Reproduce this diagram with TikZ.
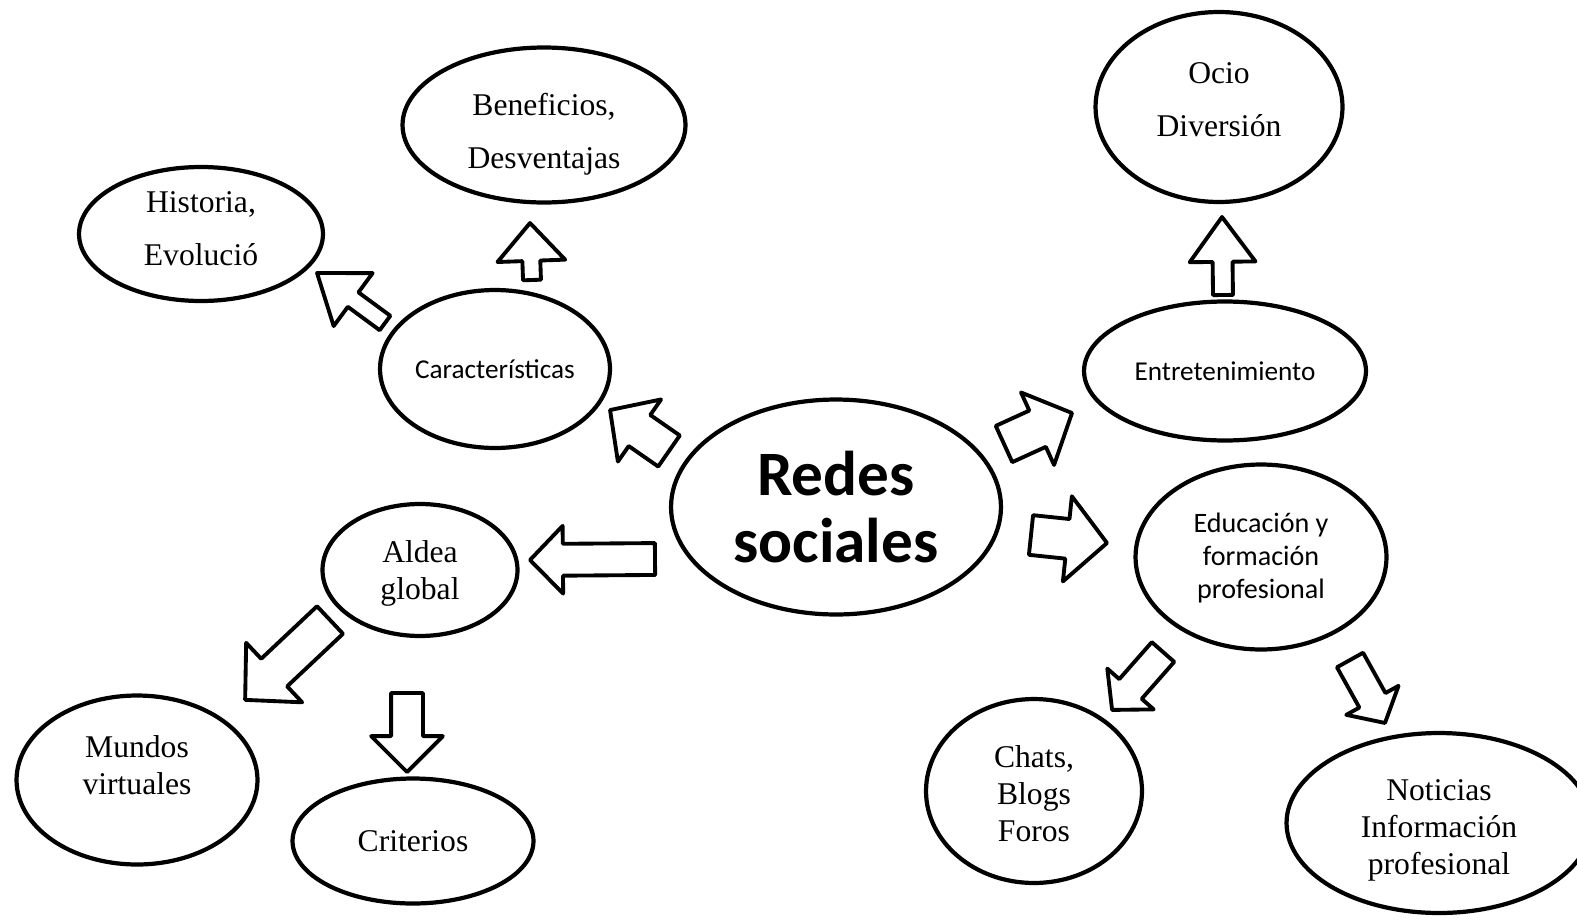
\documentclass[tikz,border=0pt]{standalone}
\usepackage{fontspec}
\setmainfont{Liberation Serif}
\newfontfamily\calib{Carlito}
\usetikzlibrary{shapes.geometric,calc}

\tikzset{
  bubble/.style={ellipse, draw, line width=2.4pt, inner sep=0pt, align=center},
  serif/.style={font=\fontsize{18}{21}\selectfont},
  wideserif/.style={font=\fontsize{18}{30.5}\selectfont},
  sans/.style={font=\calib\fontsize{15.5}{18.7}\selectfont},
  barrow/.style={draw, line width=2.2pt, line join=round, fill=white}
}

% lines of a bubble, moved up or down, the bubble keeps its given size
\newcommand{\lift}[2]{\raisebox{#1}[0pt][0pt]{\begin{tabular}{@{}c@{}}#2\end{tabular}}}

% tail, tip, half shaft, half head, head length (in px)
\newcommand{\blockarrow}[5]{%
  \draw[barrow] let \p1=(#1), \p2=(#2),
      \n1={atan2(\y2-\y1,\x2-\x1)}, \n2={veclen(\x2-\x1,\y2-\y1)} in
    [shift={(\p1)}, rotate=\n1]
    (0pt,{-#3*0.5669pt}) -- ({\n2*1pt-#5*0.5669pt},{-#3*0.5669pt})
    -- ({\n2*1pt-#5*0.5669pt},{-#4*0.5669pt}) -- ({\n2*1pt},0pt)
    -- ({\n2*1pt-#5*0.5669pt},{#4*0.5669pt}) -- ({\n2*1pt-#5*0.5669pt},{#3*0.5669pt})
    -- (0pt,{#3*0.5669pt}) -- cycle;
}

\begin{document}
\begin{tikzpicture}[x=0.02cm, y=-0.02cm]
  \useasboundingbox (0,0) rectangle (1577,919);

  \node[bubble, wideserif, minimum width=4.88cm, minimum height=2.68cm] (hist) at (201,234) {\lift{-1.1pt}{Historia,\\Evolució}};
  \node[bubble, wideserif, minimum width=5.66cm, minimum height=3.1cm] (bene) at (544,125) {\lift{-7.9pt}{Beneficios,\\Desventajas}};
  \node[bubble, sans, minimum width=4.6cm, minimum height=3.16cm] (car) at (495,369) {Características};
  \node[bubble, font=\calib\bfseries\fontsize{36}{38}\selectfont, minimum width=6.6cm, minimum height=4.3cm] (redes) at (836,507) {Redes\\sociales};
  \node[bubble, serif, minimum width=3.9cm, minimum height=2.64cm] (aldea) at (420,570) {\lift{-6.5pt}{Aldea\\global}};
  \node[bubble, serif, minimum width=4.82cm, minimum height=3.38cm] (mundos) at (137,780) {\lift{2.3pt}{Mundos\\virtuales}};
  \node[bubble, serif, minimum width=4.82cm, minimum height=2.5cm] (crit) at (413,841) {Criterios};
  \node[bubble, wideserif, minimum width=4.94cm, minimum height=3.8cm] (ocio) at (1219,107) {\lift{0.1pt}{Ocio\\Diversión}};
  \node[bubble, sans, minimum width=5.64cm, minimum height=2.78cm] (entre) at (1225,371) {Entretenimiento};
  \node[bubble, sans, font=\calib\fontsize{16}{18.7}\selectfont, minimum width=5.02cm, minimum height=3.7cm] (edu) at (1261,557) {\lift{-5.5pt}{Educación y\\formación\\profesional}};
  \node[bubble, serif, minimum width=4.32cm, minimum height=3.68cm] (chats) at (1034,791) {\lift{-7.7pt}{Chats,\\Blogs\\Foros}};
  \node[bubble, serif, minimum width=6.1cm, minimum height=3.6cm] (noti) at (1439,823) {\lift{-8.5pt}{Noticias\\Información\\profesional}};

  \coordinate (r2c-a) at (669,451);  \coordinate (r2c-b) at (610,410);
  \coordinate (c2h-a) at (385,323);  \coordinate (c2h-b) at (317,273);
  \coordinate (c2b-a) at (532,280);  \coordinate (c2b-b) at (530,223);
  \coordinate (r2a-a) at (655,559);  \coordinate (r2a-b) at (530,560);
  \coordinate (a2m-a) at (330,620);  \coordinate (a2m-b) at (245,700);
  \coordinate (a2k-a) at (407,693);  \coordinate (a2k-b) at (407,772);
  \coordinate (r2e-a) at (1004,444); \coordinate (r2e-b) at (1072,413);
  \coordinate (r2d-a) at (1031,535); \coordinate (r2d-b) at (1107,543);
  \coordinate (d2c-a) at (1163,652); \coordinate (d2c-b) at (1112,710);
  \coordinate (d2n-a) at (1350,660); \coordinate (d2n-b) at (1385,723);
  \coordinate (e2o-a) at (1223,295); \coordinate (e2o-b) at (1222,217);

  \blockarrow{r2c-a}{r2c-b}{19}{38}{36}
  \blockarrow{c2h-a}{c2h-b}{9}{33}{45}
  \blockarrow{c2b-a}{c2b-b}{9}{34}{38}
  \blockarrow{r2a-a}{r2a-b}{16}{34}{33}
  \blockarrow{a2m-a}{a2m-b}{19}{41}{40}
  \blockarrow{a2k-a}{a2k-b}{16}{36}{36}
  \blockarrow{r2e-a}{r2e-b}{20}{40}{38}
  \blockarrow{r2d-a}{r2d-b}{20}{43}{40}
  \blockarrow{d2c-a}{d2c-b}{15}{31}{28}
  \blockarrow{d2n-a}{d2n-b}{15}{30}{26}
  \blockarrow{e2o-a}{e2o-b}{10}{33}{45}
\end{tikzpicture}
\end{document}
